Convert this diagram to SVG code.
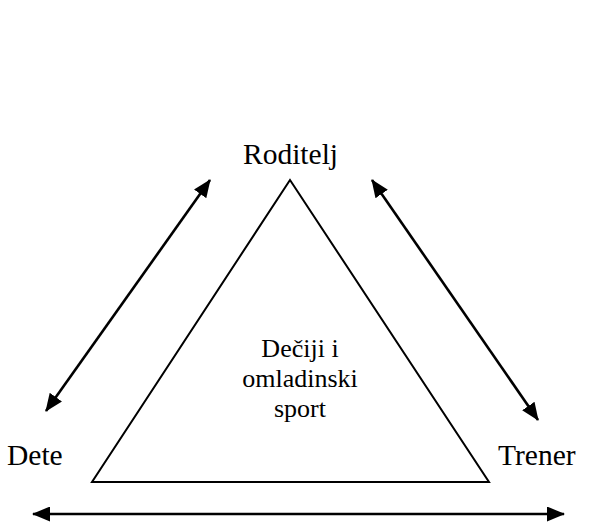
<svg xmlns="http://www.w3.org/2000/svg" width="599" height="525" viewBox="0 0 599 525">
<style>
text{font-family:"Liberation Serif","Times New Roman",serif;fill:#000;}
.lbl{font-size:29.5px;}
.mid{font-size:26px;text-anchor:middle;}
.conn{stroke:#000;stroke-width:2.6;fill:none;marker-start:url(#ah);marker-end:url(#ah);}
</style>
<defs>
<marker id="ah" viewBox="0 0 18 15" refX="17" refY="7.5" markerWidth="18" markerHeight="15" markerUnits="userSpaceOnUse" orient="auto-start-reverse">
<path d="M0,0 L18,7.5 L0,15 z" fill="#000"/>
</marker>
</defs>
<rect width="599" height="525" fill="#fff"/>
<g id="sport">
<polygon points="290,180 92,482 489,482" fill="none" stroke="#000" stroke-width="2"/>
<text class="mid" x="300" y="357">Dečiji i</text>
<text class="mid" x="300" y="387">omladinski</text>
<text class="mid" x="300" y="417">sport</text>
</g>
<g id="roditelj"><text class="lbl" x="243" y="164">Roditelj</text></g>
<g id="dete"><text class="lbl" x="7" y="465">Dete</text></g>
<g id="trener"><text class="lbl" x="498" y="465">Trener</text></g>
<g id="connectors">
<line class="conn" x1="46" y1="411" x2="210" y2="180"/>
<line class="conn" x1="372" y1="180" x2="538" y2="420"/>
<line class="conn" x1="33" y1="514" x2="564" y2="514"/>
</g>
</svg>
